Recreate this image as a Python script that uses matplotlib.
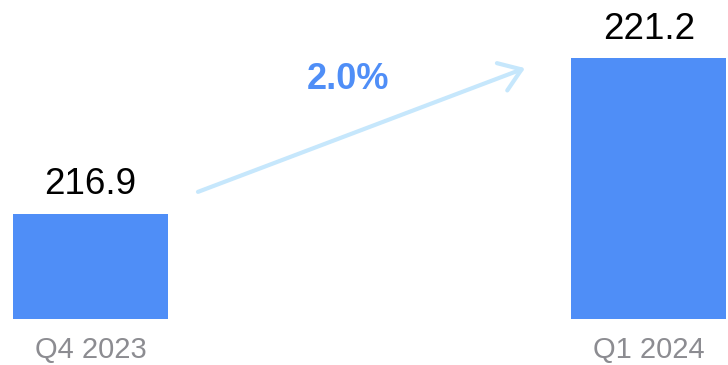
import matplotlib.pyplot as plt

# data
quarters = ["Q4 2023", "Q1 2024"]
values = [216.9, 221.2]
baseline = 214.0

bar_color = "#4F8EF7"
arrow_color = "#C6E7FC"
label_gray = "#8C8C91"

plt.rcParams['font.family'] = ['Liberation Sans', 'DejaVu Sans']

fig = plt.figure(figsize=(7.28, 3.65), dpi=100)
ax = fig.add_axes([0, 0, 1, 1])

x = list(range(len(quarters)))
heights = [v - baseline for v in values]
ax.bar(x, heights, bottom=baseline, width=0.2775, color=bar_color)

# value labels above bars
for i, v in zip(x, values):
    ax.annotate("{:.1f}".format(v), (i, v), xytext=(0, 14), textcoords="offset points",
                ha="center", va="baseline", fontsize=26.5, color="black")

# category labels below bars
for i, q in zip(x, quarters):
    ax.text(i, 0.018, q, transform=ax.get_xaxis_transform(), ha="center", va="baseline",
            fontsize=21, color=label_gray)

# growth arrow + percentage
pct = (values[1] - values[0]) / values[0] * 100
ax.annotate("", xy=(0.778, values[1] - 0.28), xytext=(0.1925, values[0] + 0.6),
            arrowprops=dict(arrowstyle="->,head_length=1.5,head_width=1.05", mutation_scale=10,
                            color=arrow_color, lw=3, shrinkA=0, shrinkB=0, capstyle="round"))
ax.text(0.461, values[1] - 0.6, "{:.1f}%".format(pct), ha="center", va="center",
        fontsize=26, fontweight="bold", color=bar_color)

ax.set_xlim(-0.162, 1.1415)
ax.set_ylim(212.715, 222.803)
ax.axis("off")

fig.savefig("out.png", dpi=100)
